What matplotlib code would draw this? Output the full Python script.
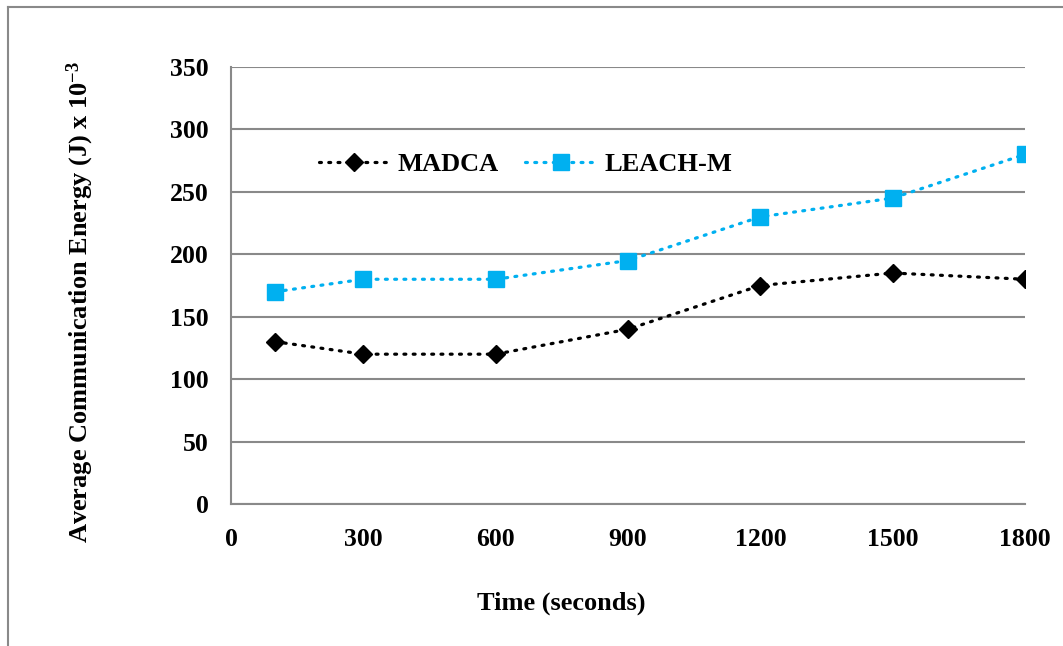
import matplotlib.pyplot as plt
from matplotlib.lines import Line2D

time_s = [100, 300, 600, 900, 1200, 1500, 1800]
madca = [130, 120, 120, 140, 175, 185, 180]
leach_m = [170, 180, 180, 195, 230, 245, 280]
x_ticks = [0, 300, 600, 900, 1200, 1500, 1800]
y_ticks = [0, 50, 100, 150, 200, 250, 300, 350]

plt.rcParams['font.family'] = ['Liberation Serif', 'DejaVu Serif']
plt.rcParams['font.weight'] = 'bold'
plt.rcParams['mathtext.fontset'] = 'custom'
plt.rcParams['mathtext.rm'] = 'Liberation Serif:bold'
plt.rcParams['mathtext.bf'] = 'Liberation Serif:bold'
plt.rcParams['mathtext.default'] = 'bf'

W, H = 1063, 646
fig = plt.figure(figsize=(W / 100, H / 100), dpi=100)
ax = fig.add_axes([231 / W, (H - 504) / H, (1025 - 231) / W, (504 - 67) / H])

grid_c = '#898989'
dot = (0, (0.6, 2.3))

ax.plot(time_s, madca, color='black', linestyle=dot, linewidth=2.3,
        dash_capstyle='round', marker='D', markersize=9.5,
        markerfacecolor='black', markeredgecolor='black', label='MADCA', zorder=3)
ax.plot(time_s, leach_m, color='#00B0F0', linestyle=dot, linewidth=2.3,
        dash_capstyle='round', marker='s', markersize=11,
        markerfacecolor='#00B0F0', markeredgecolor='#00B0F0', label='LEACH-M', zorder=3)

ax.set_xlim(0, 1800)
ax.set_ylim(0, 350)
ax.set_xticks(x_ticks)
ax.set_yticks(y_ticks)
ax.tick_params(length=0, labelsize=18.5)
ax.tick_params(axis='y', pad=16)
ax.tick_params(axis='x', pad=17)
for lab in ax.get_xticklabels() + ax.get_yticklabels():
    lab.set_fontweight('bold')

ax.yaxis.grid(True, color=grid_c, linewidth=1.5)
ax.set_axisbelow(True)
for side in ['top', 'right']:
    ax.spines[side].set_visible(False)
for side in ['left', 'bottom']:
    ax.spines[side].set_color(grid_c)
    ax.spines[side].set_linewidth(1.5)

fig.text(80 / W, 1 - 302 / H, r'Average Communication Energy (J) x 10$^{-3}$',
         rotation=90, ha='center', va='center', fontsize=19, fontweight='bold')
fig.text(561 / W, 1 - 603 / H, 'Time (seconds)', ha='center', va='center',
         fontsize=19, fontweight='bold')

leg = ax.legend(loc='upper left', bbox_to_anchor=((308 - 231) / (1025 - 231), (504 - 142) / (504 - 67)),
                ncol=2, frameon=False, fontsize=19, handlelength=2.7, handletextpad=0.3,
                columnspacing=1.0, borderaxespad=0)
for t in leg.get_texts():
    t.set_fontweight('bold')

# outer chart frame (cropped at right and bottom)
fig.add_artist(Line2D([8 / W, 1], [1 - 7 / H, 1 - 7 / H], color=grid_c, linewidth=1.5))
fig.add_artist(Line2D([8 / W, 8 / W], [0, 1 - 7 / H], color=grid_c, linewidth=1.5))

fig.savefig('out.png', dpi=100)
